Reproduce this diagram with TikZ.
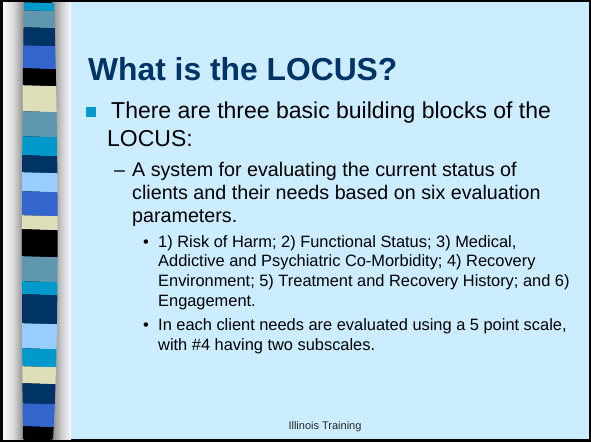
\documentclass[tikz,border=0pt]{standalone}
\usepackage{fontspec}
\setmainfont{Liberation Sans}
\definecolor{slidebg}{HTML}{CCECFF}
\definecolor{titleblue}{HTML}{003366}
\definecolor{scyan}{HTML}{0099CC}
\definecolor{ssteel}{HTML}{5F97AF}
\definecolor{snavy}{HTML}{003366}
\definecolor{sroyal}{HTML}{3366CC}
\definecolor{sbeige}{HTML}{DEDEB8}
\definecolor{slight}{HTML}{99CCFF}
\definecolor{greyd}{HTML}{8A8A8A}
\begin{document}
\begin{tikzpicture}[x=1pt,y=-1pt,
  txt/.style={inner sep=0pt,anchor=base west,text=black},
  lvlone/.style={txt,font=\fontsize{23}{28}\selectfont},
  lvltwo/.style={txt,font=\fontsize{19.7}{23}\selectfont},
  lvlthree/.style={txt,font=\fontsize{16.4}{20}\selectfont},
  ttl/.style={inner sep=0pt,anchor=base west,text=titleblue,font=\fontsize{31.8}{38}\selectfont\bfseries},
  foot/.style={inner sep=0pt,anchor=base,text=black!85,font=\fontsize{11}{13}\selectfont}]
\useasboundingbox (0,0) rectangle (591,442);
% background
\fill[black] (0,0) rectangle (591,442);
\fill[slidebg] (71,2) rectangle (589,439);
% grey gradient panel
\shade[left color=white!97!black,right color=greyd,middle color=white!85!black] (3,2) rectangle (24,439);
\shade[left color=greyd,right color=white!98!black,middle color=white!80!black] (52,2) rectangle (71,439);
% stripe
\begin{scope}
\clip (24,2) .. controls (21.5,120) and (21.5,330) .. (23,439)
  -- (53,439) .. controls (59.5,330) and (58.5,150) .. (54,2) -- cycle;
\foreach \ya/\yb/\cc in {2/10/scyan,10/27/ssteel,27/45/snavy,45/68/sroyal,68/85/black,
  85/111/sbeige,111/136/ssteel,136/155/scyan,155/172/snavy,172/191/slight,191/215/sroyal,
  215/229/sbeige,229/256/black,256/281/ssteel,281/294/scyan,294/323/snavy,323/348/slight,
  348/366/scyan,366/383/sbeige,383/403/snavy,403/426/sroyal,426/440/black}
  \fill[\cc] (15,\ya) -- (65,\ya+1.5) -- (65,\yb+1.5) -- (15,\yb) -- cycle;
\end{scope}
% title
\node[ttl] (title) at (88,80) {What is the LOCUS?};
% level 1
\fill[scyan] (86,107) rectangle (96,117);
\node[lvlone] (l1a) at (111,118) {There are three basic building blocks of the};
\node[lvlone] (l1b) at (107,146) {LOCUS:};
% level 2
\node[lvltwo] (d2) at (114,176) {–};
\node[lvltwo] (l2a) at (132,176) {A system for evaluating the current status of};
\node[lvltwo] (l2b) at (132,199) {clients and their needs based on six evaluation};
\node[lvltwo] (l2c) at (132,222) {parameters.};
% level 3
\node[lvlthree] (b3a) at (143,247) {•};
\node[lvlthree] (l3a) at (158,247) {1) Risk of Harm; 2) Functional Status; 3) Medical,};
\node[lvlthree] (l3b) at (158,266.7) {Addictive and Psychiatric Co-Morbidity; 4) Recovery};
\node[lvlthree] (l3c) at (158,286.4) {Environment; 5) Treatment and Recovery History; and 6)};
\node[lvlthree] (l3d) at (158,306) {Engagement.};
\node[lvlthree] (b3b) at (143,330) {•};
\node[lvlthree] (l3e) at (158,330) {In each client needs are evaluated using a 5 point scale,};
\node[lvlthree] (l3f) at (158,350) {with \#4 having two subscales.};
% footer
\node[foot] (footer) at (325,429) {Illinois Training};
\end{tikzpicture}
\end{document}
